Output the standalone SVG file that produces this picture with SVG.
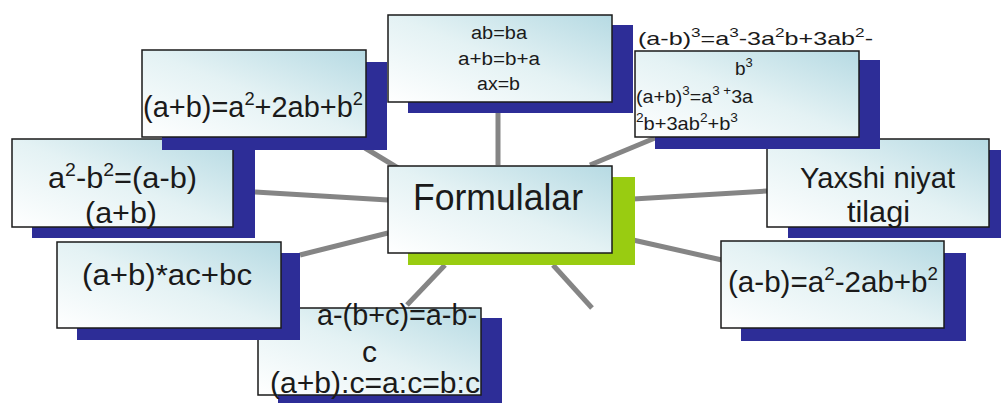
<svg xmlns="http://www.w3.org/2000/svg" width="1001" height="403" viewBox="0 0 1001 403">
<defs>
<linearGradient id="g" x1="0" y1="1" x2="1" y2="0">
<stop offset="0" stop-color="#ffffff"/>
<stop offset="0.5" stop-color="#e4f2f4"/>
<stop offset="1" stop-color="#b6dae3"/>
</linearGradient>
<style>
.box{fill:url(#g);stroke:#1a1a1a;stroke-width:1.5}
.sh{fill:#2d2d97}
.gr{fill:#99cc11}
.c line{stroke:#858585;stroke-width:5}
text{font-family:"Liberation Sans",Arial,sans-serif;fill:#1a1a1a}
.t30{font-size:30px}
.t18{font-size:18px}
.t19{font-size:19px}
</style>
</defs>
<rect width="1001" height="403" fill="#ffffff"/>
<g class="c" id="connectors">
<line x1="498" y1="165" x2="498" y2="113"/>
<line x1="365" y1="148" x2="398" y2="168"/>
<line x1="255" y1="192" x2="388" y2="200"/>
<line x1="300" y1="255" x2="388" y2="233"/>
<line x1="445" y1="265" x2="407" y2="305"/>
<line x1="553" y1="265" x2="592" y2="308"/>
<line x1="633" y1="240" x2="722" y2="260"/>
<line x1="633" y1="199" x2="767" y2="191"/>
<line x1="590" y1="165" x2="655" y2="138"/>
</g>
<g id="node-right">
<rect class="sh" x="788" y="150" width="224" height="88"/>
<rect class="box" x="767" y="139" width="222" height="88"/>
<text class="t30" x="800" y="188" textLength="155" lengthAdjust="spacingAndGlyphs">Yaxshi niyat</text>
<text class="t30" x="847" y="222" textLength="63" lengthAdjust="spacingAndGlyphs">tilagi</text>
</g>
<g id="node-topright">
<rect class="sh" x="655" y="60" width="225" height="89"/>
<rect class="box" x="635" y="51" width="224" height="86"/>
<text class="t19" x="638" y="45" textLength="235" lengthAdjust="spacingAndGlyphs">(a-b)<tspan dy="-8" font-size="13">3</tspan><tspan dy="8">=a</tspan><tspan dy="-8" font-size="13">3</tspan><tspan dy="8">-3a</tspan><tspan dy="-8" font-size="13">2</tspan><tspan dy="8">b+3ab</tspan><tspan dy="-8" font-size="13">2</tspan><tspan dy="8">-</tspan></text>
<text class="t19" x="735" y="75">b<tspan dy="-8" font-size="13">3</tspan></text>
<text class="t19" x="636" y="103" textLength="117" lengthAdjust="spacingAndGlyphs">(a+b)<tspan dy="-8" font-size="13">3</tspan><tspan dy="8">=a</tspan><tspan dy="-8" font-size="13">3 +</tspan><tspan dy="8">3a</tspan></text>
<text class="t19" x="636" y="130" textLength="102" lengthAdjust="spacingAndGlyphs"><tspan dy="-8" font-size="13">2</tspan><tspan dy="8">b+3ab</tspan><tspan dy="-8" font-size="13">2</tspan><tspan dy="8">+b</tspan><tspan dy="-8" font-size="13">3</tspan></text>
</g>
<g id="node-bottom">
<rect class="sh" x="278" y="318" width="224" height="90"/>
<rect class="box" x="258" y="308" width="223" height="87"/>
<text class="t30" x="317" y="325" textLength="160" lengthAdjust="spacingAndGlyphs">a-(b+c)=a-b-</text>
<text class="t30" x="362" y="362">c</text>
<text class="t30" x="270" y="393" textLength="210" lengthAdjust="spacingAndGlyphs">(a+b):c=a:c=b:c</text>
</g>
<g id="node-lowerleft">
<rect class="sh" x="77" y="253" width="223" height="87"/>
<rect class="box" x="57" y="242" width="224" height="86"/>
<text class="t30" x="82" y="285" textLength="170" lengthAdjust="spacingAndGlyphs">(a+b)*ac+bc</text>
</g>
<g id="node-left">
<rect class="sh" x="32" y="148" width="223" height="90"/>
<rect class="box" x="12" y="139" width="221" height="88"/>
<text class="t30" x="48" y="188" textLength="149" lengthAdjust="spacingAndGlyphs">a<tspan dy="-12" font-size="19">2</tspan><tspan dy="12">-b</tspan><tspan dy="-12" font-size="19">2</tspan><tspan dy="12">=(a-b)</tspan></text>
<text class="t30" x="85" y="223" textLength="72" lengthAdjust="spacingAndGlyphs">(a+b)</text>
</g>
<g id="node-topleft">
<rect class="sh" x="162" y="62" width="225" height="88"/>
<rect class="box" x="142" y="50" width="224" height="87"/>
<text class="t30" x="143" y="117" textLength="220" lengthAdjust="spacingAndGlyphs">(a+b)=a<tspan dy="-12" font-size="19">2</tspan><tspan dy="12">+2ab+b</tspan><tspan dy="-12" font-size="19">2</tspan></text>
</g>
<g id="node-top">
<rect class="sh" x="408" y="25" width="225" height="88"/>
<rect class="box" x="388" y="15" width="224" height="87"/>
<text class="t18" x="471" y="39" textLength="56" lengthAdjust="spacingAndGlyphs">ab=ba</text>
<text class="t18" x="458" y="65" textLength="82" lengthAdjust="spacingAndGlyphs">a+b=b+a</text>
<text class="t18" x="477" y="90" textLength="43" lengthAdjust="spacingAndGlyphs">ax=b</text>
</g>
<g id="node-bottomright">
<rect class="sh" x="741" y="253" width="225" height="88"/>
<rect class="box" x="721" y="241" width="223" height="87"/>
<text class="t30" x="728" y="292" textLength="210" lengthAdjust="spacingAndGlyphs">(a-b)=a<tspan dy="-12" font-size="19">2</tspan><tspan dy="12">-2ab+b</tspan><tspan dy="-12" font-size="19">2</tspan></text>
</g>
<g id="node-center">
<rect class="gr" x="408" y="177" width="227" height="88"/>
<rect class="box" x="388" y="166" width="224" height="87"/>
<text x="413" y="210" font-size="37" textLength="170" lengthAdjust="spacingAndGlyphs">Formulalar</text>
</g>
</svg>
